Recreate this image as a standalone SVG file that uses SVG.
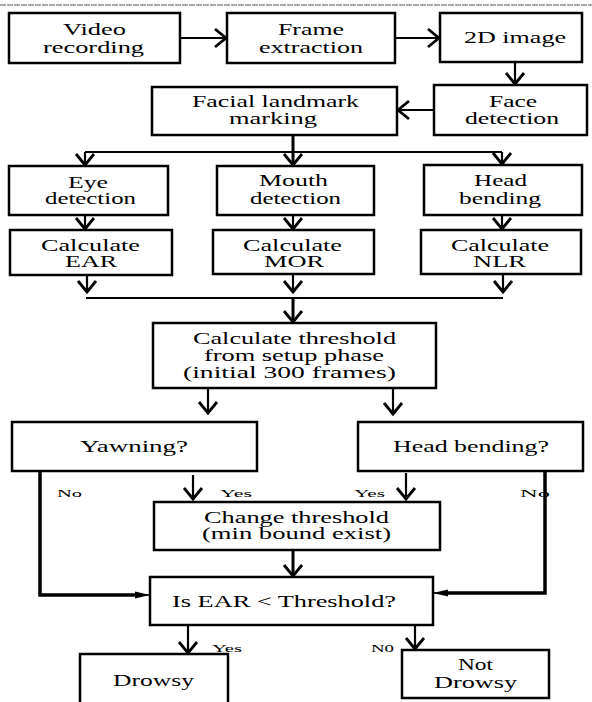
<svg xmlns="http://www.w3.org/2000/svg" width="592" height="702" viewBox="0 0 592 702">
<style>
.box{fill:#fff;stroke:#000;stroke-width:2.5}
.t{font-family:"Liberation Serif","Times New Roman",serif;font-size:16px;fill:#000}
.s{font-family:"Liberation Serif","Times New Roman",serif;font-size:11px;fill:#000}
.c{fill:none;stroke:#000;stroke-width:2.2}
.k{fill:none;stroke:#000;stroke-width:3.5}
</style>
<defs>
<marker id="chev" markerUnits="userSpaceOnUse" markerWidth="16" markerHeight="22" viewBox="0 0 16 22" refX="13" refY="11" orient="auto">
<path d="M2,2 L13,11 L2,20" fill="none" stroke="#000" stroke-width="2.8"/>
</marker>
<marker id="tri" markerUnits="userSpaceOnUse" markerWidth="16" markerHeight="10" viewBox="0 0 16 10" refX="15" refY="5" orient="auto">
<path d="M0,1.5 L15,5 L0,8.5 Z" fill="#000"/>
</marker>
</defs>
<rect width="592" height="702" fill="#fff"/>
<line x1="0" y1="5" x2="592" y2="5" stroke="#555" stroke-width="1.2" stroke-dasharray="6,1"/>

<g id="connectors">
<line class="c" x1="180" y1="38" x2="226" y2="38" marker-end="url(#chev)"/>
<line class="c" x1="395" y1="38" x2="439" y2="38" marker-end="url(#chev)"/>
<line class="c" x1="515" y1="62" x2="515" y2="84" marker-end="url(#chev)"/>
<line class="c" x1="434" y1="110" x2="398" y2="110" marker-end="url(#chev)"/>
<line class="c" x1="293" y1="135" x2="293" y2="152" style="stroke-width:3"/>
<line class="c" x1="85" y1="152" x2="502" y2="152"/>
<line class="c" x1="85" y1="152" x2="85" y2="165" marker-end="url(#chev)"/>
<line class="c" x1="293" y1="152" x2="293" y2="165" marker-end="url(#chev)" style="stroke-width:3"/>
<line class="c" x1="502" y1="152" x2="502" y2="164" marker-end="url(#chev)"/>
<line class="c" x1="85" y1="215" x2="85" y2="229" marker-end="url(#chev)"/>
<line class="c" x1="293" y1="215" x2="293" y2="229" marker-end="url(#chev)"/>
<line class="c" x1="502" y1="215" x2="502" y2="229" marker-end="url(#chev)"/>
<line class="c" x1="87" y1="276" x2="87" y2="292" marker-end="url(#chev)"/>
<line class="c" x1="293" y1="275" x2="293" y2="292" marker-end="url(#chev)"/>
<line class="c" x1="503" y1="275" x2="503" y2="292" marker-end="url(#chev)"/>
<line class="c" x1="86" y1="298" x2="503" y2="298"/>
<line class="c" x1="293" y1="298" x2="293" y2="322" marker-end="url(#chev)" style="stroke-width:3"/>
<line class="c" x1="208" y1="388" x2="208" y2="413" marker-end="url(#chev)"/>
<line class="c" x1="393" y1="388" x2="393" y2="414" marker-end="url(#chev)"/>
<line class="c" x1="193" y1="475" x2="193" y2="499" marker-end="url(#chev)"/>
<line class="c" x1="406" y1="473" x2="406" y2="499" marker-end="url(#chev)"/>
<line class="c" x1="293" y1="550" x2="293" y2="576" marker-end="url(#chev)" style="stroke-width:3"/>
<line class="c" x1="188" y1="626" x2="188" y2="653" marker-end="url(#chev)"/>
<line class="c" x1="415" y1="626" x2="415" y2="649" marker-end="url(#chev)"/>
</g>

<g id="n-video"><rect class="box" x="9" y="13" width="171" height="50"/>
<text class="t" x="63" y="35" textLength="63" lengthAdjust="spacingAndGlyphs">Video</text>
<text class="t" x="43" y="53" textLength="101" lengthAdjust="spacingAndGlyphs">recording</text></g>

<g id="n-frame"><rect class="box" x="227" y="13" width="168" height="50"/>
<text class="t" x="278" y="35" textLength="66" lengthAdjust="spacingAndGlyphs">Frame</text>
<text class="t" x="259" y="53" textLength="104" lengthAdjust="spacingAndGlyphs">extraction</text></g>

<g id="n-2d"><rect class="box" x="440" y="13" width="142" height="49"/>
<text class="t" x="464" y="43" textLength="102" lengthAdjust="spacingAndGlyphs">2D image</text></g>

<g id="n-face"><rect class="box" x="434" y="85" width="153" height="50"/>
<text class="t" x="489" y="107" textLength="48" lengthAdjust="spacingAndGlyphs">Face</text>
<text class="t" x="465" y="124" textLength="94" lengthAdjust="spacingAndGlyphs">detection</text></g>

<g id="n-facial"><rect class="box" x="152" y="87" width="245" height="48"/>
<text class="t" x="192" y="107" textLength="167" lengthAdjust="spacingAndGlyphs">Facial landmark</text>
<text class="t" x="229" y="124" textLength="88" lengthAdjust="spacingAndGlyphs">marking</text></g>

<g id="n-eye"><rect class="box" x="9" y="166" width="159" height="49"/>
<text class="t" x="68" y="188" textLength="40" lengthAdjust="spacingAndGlyphs">Eye</text>
<text class="t" x="45" y="204" textLength="91" lengthAdjust="spacingAndGlyphs">detection</text></g>

<g id="n-mouth"><rect class="box" x="217" y="166" width="157" height="49"/>
<text class="t" x="259" y="186" textLength="69" lengthAdjust="spacingAndGlyphs">Mouth</text>
<text class="t" x="250" y="204" textLength="91" lengthAdjust="spacingAndGlyphs">detection</text></g>

<g id="n-head"><rect class="box" x="424" y="165" width="158" height="50"/>
<text class="t" x="474" y="186" textLength="53" lengthAdjust="spacingAndGlyphs">Head</text>
<text class="t" x="459" y="204" textLength="82" lengthAdjust="spacingAndGlyphs">bending</text></g>

<g id="n-ear"><rect class="box" x="10" y="230" width="162" height="45"/>
<text class="t" x="41" y="251" textLength="99" lengthAdjust="spacingAndGlyphs">Calculate</text>
<text class="t" x="65" y="267" textLength="52" lengthAdjust="spacingAndGlyphs">EAR</text></g>

<g id="n-mor"><rect class="box" x="213" y="230" width="161" height="44"/>
<text class="t" x="243" y="251" textLength="99" lengthAdjust="spacingAndGlyphs">Calculate</text>
<text class="t" x="264" y="267" textLength="60" lengthAdjust="spacingAndGlyphs">MOR</text></g>

<g id="n-nlr"><rect class="box" x="421" y="230" width="160" height="44"/>
<text class="t" x="451" y="251" textLength="98" lengthAdjust="spacingAndGlyphs">Calculate</text>
<text class="t" x="473" y="267" textLength="53" lengthAdjust="spacingAndGlyphs">NLR</text></g>

<g id="n-threshold"><rect class="box" x="153" y="323" width="283" height="65"/>
<text class="t" x="193" y="344" textLength="203" lengthAdjust="spacingAndGlyphs">Calculate threshold</text>
<text class="t" x="204" y="361" textLength="180" lengthAdjust="spacingAndGlyphs">from setup phase</text>
<text class="t" x="183" y="378" textLength="213" lengthAdjust="spacingAndGlyphs">(initial 300 frames)</text></g>

<g id="n-yawning"><rect class="box" x="12" y="422" width="245" height="49"/>
<text class="t" x="80" y="452" textLength="108" lengthAdjust="spacingAndGlyphs">Yawning?</text></g>

<g id="n-headq"><rect class="box" x="358" y="422" width="225" height="49"/>
<text class="t" x="393" y="452" textLength="156" lengthAdjust="spacingAndGlyphs">Head bending?</text></g>

<g id="n-change"><rect class="box" x="154" y="502" width="286" height="48"/>
<text class="t" x="204" y="523" textLength="185" lengthAdjust="spacingAndGlyphs">Change threshold</text>
<text class="t" x="202" y="539" textLength="189" lengthAdjust="spacingAndGlyphs">(min bound exist)</text></g>

<g id="n-isear"><rect class="box" x="150" y="577" width="283" height="48"/>
<text class="t" x="172" y="607" textLength="224" lengthAdjust="spacingAndGlyphs">Is EAR &lt; Threshold?</text></g>

<g id="n-drowsy"><rect class="box" x="80" y="654" width="148" height="56"/>
<text class="t" x="113" y="686" textLength="81" lengthAdjust="spacingAndGlyphs">Drowsy</text></g>

<g id="n-notdrowsy"><rect class="box" x="402" y="650" width="147" height="48"/>
<text class="t" x="458" y="670" textLength="35" lengthAdjust="spacingAndGlyphs">Not</text>
<text class="t" x="434" y="688" textLength="83" lengthAdjust="spacingAndGlyphs">Drowsy</text></g>

<g id="labels">
<text class="s" x="57" y="497" textLength="25" lengthAdjust="spacingAndGlyphs">No</text>
<text class="s" x="220" y="497" textLength="32" lengthAdjust="spacingAndGlyphs">Yes</text>
<text class="s" x="354" y="497" textLength="31" lengthAdjust="spacingAndGlyphs">Yes</text>
<text class="s" x="520" y="497" textLength="30" lengthAdjust="spacingAndGlyphs">No</text>
<text class="s" x="212" y="652" textLength="30" lengthAdjust="spacingAndGlyphs">Yes</text>
<text class="s" x="371" y="652" textLength="23" lengthAdjust="spacingAndGlyphs">N0</text>
</g>

<g id="connectors-no">
<polyline class="k" points="40,471 40,595 140,595"/>
<line x1="138" y1="595" x2="150" y2="595" stroke="#000" stroke-width="1.5" marker-end="url(#tri)"/>
<polyline class="k" points="545,471 545,593 444,593"/>
<line x1="446" y1="593" x2="433" y2="593" stroke="#000" stroke-width="1.5" marker-end="url(#tri)"/>
</g>
</svg>
